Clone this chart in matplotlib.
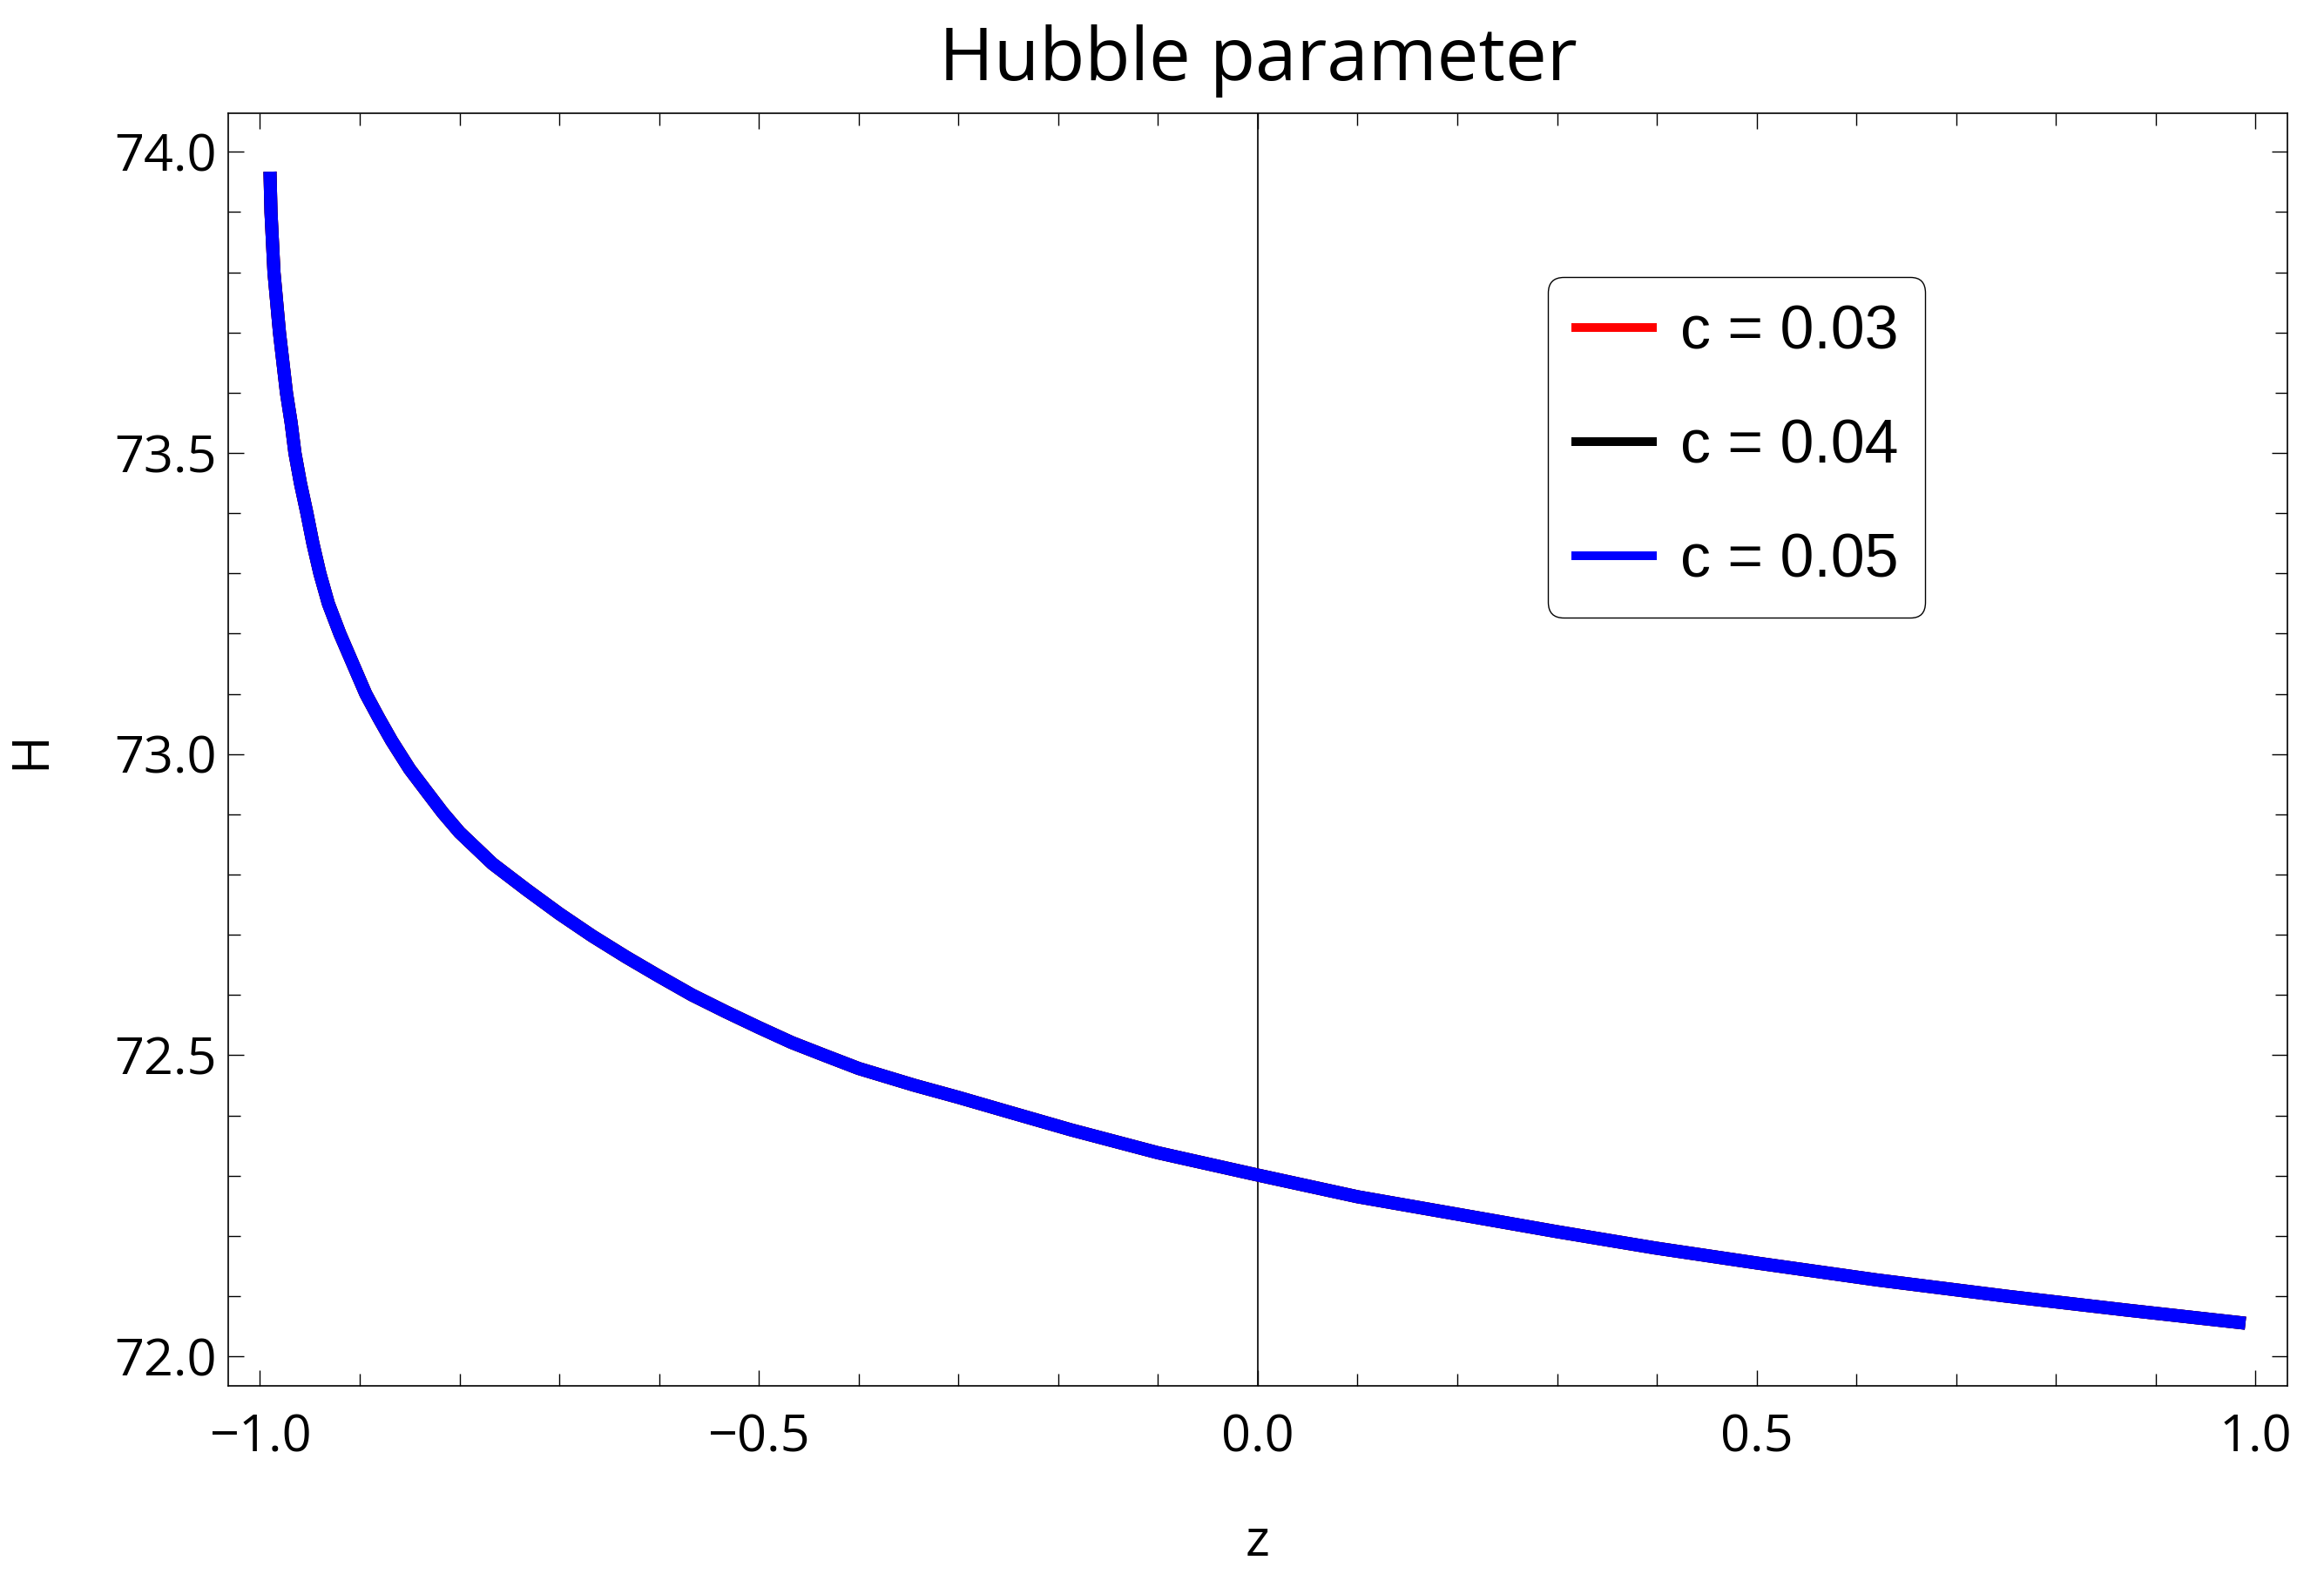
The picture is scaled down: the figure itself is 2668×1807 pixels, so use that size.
import matplotlib
matplotlib.use("Agg")
import matplotlib.pyplot as plt
from matplotlib.lines import Line2D
from matplotlib.ticker import MultipleLocator, FuncFormatter

# ---- data ----
z = [-0.990, -0.989, -0.986, -0.9805, -0.9735, -0.9688, -0.965, -0.9595, -0.953,
     -0.947, -0.940, -0.9315, -0.920, -0.907, -0.894, -0.881, -0.868, -0.850,
     -0.834, -0.817, -0.800, -0.767, -0.733, -0.700, -0.667, -0.633, -0.600,
     -0.567, -0.533, -0.500, -0.467, -0.433, -0.400, -0.344, -0.300, -0.250,
     -0.187, -0.100, 0.000, 0.100, 0.214, 0.300, 0.398, 0.500, 0.620, 0.750,
     0.870, 0.990]
H_c003 = [73.967, 73.900, 73.800, 73.700, 73.600, 73.550, 73.500, 73.450, 73.400,
          73.350, 73.300, 73.250, 73.200, 73.150, 73.100, 73.060, 73.022, 72.975,
          72.940, 72.903, 72.870, 72.818, 72.775, 72.735, 72.698, 72.663, 72.631,
          72.600, 72.572, 72.546, 72.521, 72.499, 72.478, 72.450, 72.430, 72.406,
          72.376, 72.338, 72.301, 72.265, 72.232, 72.207, 72.180, 72.155, 72.127,
          72.100, 72.077, 72.055]
H_c004 = list(H_c003)
H_c005 = list(H_c003)
labels = ["c = 0.03", "c = 0.04", "c = 0.05"]
colors = ["#ff0000", "#000000", "#0000ff"]

FONT = ["Open Sans", "DejaVu Sans"]

W, Hpx, DPI = 2668, 1807, 200
fig = plt.figure(figsize=(W / DPI, Hpx / DPI), dpi=DPI)
ax = fig.add_axes([262.3 / W, 1 - 1591 / Hpx, (2625.7 - 262.3) / W, (1591 - 130.3) / Hpx])

for ys, col in zip([H_c003, H_c004, H_c005], colors):
    ax.plot(z, ys, color=col, lw=5.4, solid_capstyle="butt", solid_joinstyle="round")

ax.axvline(0.0, color="black", lw=0.6, zorder=1)

ax.set_xlim(-1.0316, 1.0318)
ax.set_ylim(71.951, 74.0636)

fmt = FuncFormatter(lambda v, pos: ("%.1f" % v).replace("-", "\u2212"))
ax.xaxis.set_major_locator(MultipleLocator(0.5))
ax.xaxis.set_minor_locator(MultipleLocator(0.1))
ax.yaxis.set_major_locator(MultipleLocator(0.5))
ax.yaxis.set_minor_locator(MultipleLocator(0.1))
ax.xaxis.set_major_formatter(fmt)
ax.yaxis.set_major_formatter(fmt)

ax.tick_params(which="both", direction="in", top=True, right=True, width=0.5, color="black")
ax.tick_params(which="major", length=6.5, labelsize=21.4)
ax.tick_params(which="minor", length=5.0)
ax.tick_params(axis="x", which="major", pad=11)
ax.tick_params(axis="y", which="major", pad=4.7)
for lab in ax.get_xticklabels() + ax.get_yticklabels():
    lab.set_fontfamily(FONT)
for sp in ax.spines.values():
    sp.set_linewidth(0.6)
    sp.set_color("black")

ax.set_xlabel("z", fontsize=21.4, labelpad=22, family=FONT)
ax.set_ylabel("H", fontsize=21.4, labelpad=24, family=FONT)
ax.set_title("Hubble parameter", fontsize=30.7, pad=13.9, family=FONT)

handles = [Line2D([0], [0], color=c, lw=3.6) for c in colors]
leg = ax.legend(handles, labels, loc="upper left",
                bbox_to_anchor=(1777.3 / W, 1 - 318.3 / Hpx),
                bbox_transform=fig.transFigure, borderaxespad=0,
                prop={"family": "Liberation Sans", "size": 25.1},
                handlelength=1.27, handletextpad=0.45, labelspacing=0.93,
                borderpad=0.45, fancybox=True, framealpha=1, edgecolor="black")
leg.get_frame().set_linewidth(0.5)
leg.get_frame().set_boxstyle("round", pad=0, rounding_size=0.25)

fig.savefig("out.png", dpi=DPI)
